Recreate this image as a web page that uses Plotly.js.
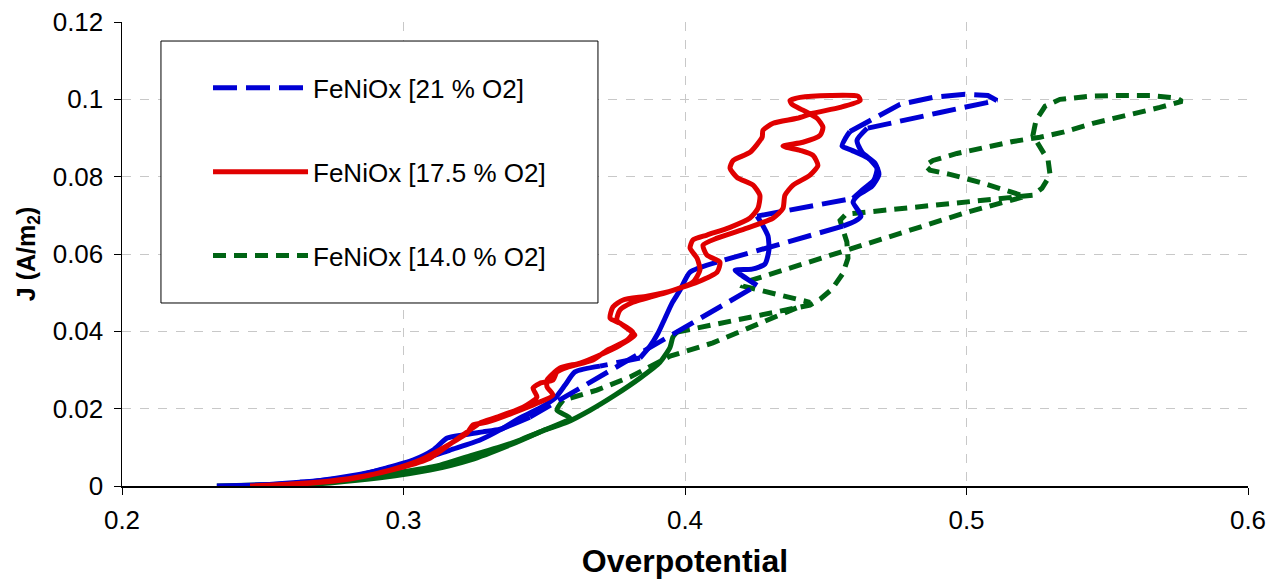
<!DOCTYPE html>
<html><head><meta charset="utf-8">
<script src="https://cdn.plot.ly/plotly-3.0.1.min.js"></script>
<style>html,body{margin:0;padding:0;background:#fff}#chart{width:1285px;height:586px}</style>
</head><body><div id="chart"></div>
<script>
const seriesNames = ['FeNiOx [21 % O2]', 'FeNiOx [17.5 % O2]', 'FeNiOx [14.0 % O2]'];
const xTickVals = [0.2, 0.3, 0.4, 0.5, 0.6];
const xTickText = ['0.2', '0.3', '0.4', '0.5', '0.6'];
const yTickVals = [0, 0.02, 0.04, 0.06, 0.08, 0.1, 0.12];
const yTickText = ['0', '0.02', '0.04', '0.06', '0.08', '0.1', '0.12'];

// FeNiOx [21 % O2] — densely sampled parts (look solid)
const blueSolidX = [0.2337,0.2490,0.2632,0.2810,0.2941,0.3034,0.3105,0.3155,0.3211,0.3282,0.3343,0.3449, null,
  0.4256,0.4195,0.4178,0.4238,0.4284,0.4298,0.4295,0.4274,0.4256, null,
  0.4597,0.4629,0.4671,0.4682,0.4650,0.4593,0.4558,0.4572,0.4586, null,
  0.4647,0.4611,0.4629,0.4675,0.4689,0.4664,0.4615,0.4597,0.4615,0.4625,0.4604,0.4561, null,
  0.4114,0.4018,0.3982,0.3954,0.3929,0.3904,0.3876,0.3840, null,
  0.3698,0.3609,0.3574,0.3538,0.3485,0.3414,0.3343,0.3272,0.3165,0.3059,0.2952,0.2810,0.2632,0.2455];
const blueSolidY = [0,0.0003,0.0010,0.0023,0.0047,0.0067,0.0093,0.0124,0.0132,0.0140,0.0147,0.0178, null,
  0.0519,0.0548,0.0558,0.0561,0.0574,0.0610,0.0646,0.0677,0.0698, null,
  0.0744,0.0765,0.0791,0.0822,0.0848,0.0868,0.0879,0.0902,0.0917, null,
  0.0925,0.0894,0.0863,0.0835,0.0806,0.0775,0.0752,0.0734,0.0713,0.0698,0.0685,0.0672, null,
  0.0579,0.0553,0.0506,0.0473,0.0434,0.0395,0.0362,0.0331, null,
  0.0310,0.0295,0.0261,0.0227,0.0202,0.0176,0.0145,0.0119,0.0093,0.0067,0.0047,0.0026,0.0008,0];
// FeNiOx [21 % O2] — sparse jumps (look dashed)
const blueDashX = [0.3449,0.4256, null, 0.4256,0.4597, null,
  0.4586,0.4764,0.4881,0.4995,0.5076,0.5108,0.4906,0.4647, null,
  0.4561,0.4114, null, 0.3840,0.3698];
const blueDashY = [0.0178,0.0519, null, 0.0698,0.0744, null,
  0.0917,0.0987,0.1005,0.1013,0.1010,0.0997,0.0966,0.0925, null,
  0.0672,0.0579, null, 0.0331,0.0310];

// FeNiOx [17.5 % O2]
const redX = [0.2455,0.2597,0.2739,0.2863,0.2988,0.3094,0.3176,0.3236,0.3272,0.3332,
  0.3425,0.3474,0.3460,0.3485,0.3531,0.3545,0.3581,0.3673,0.3723,0.3794,
  0.3815,0.3769,0.3734,0.3744,0.3780,0.3865,0.3957,0.4028,0.4053,0.4043,
  0.4018,0.4028,0.4078,0.4160,0.4231,0.4259,0.4266,0.4242,0.4185,0.4160,
  0.4171,0.4231,0.4274,0.4277,0.4313,0.4398,0.4455,0.4551,0.4622,0.4615,
  0.4515,0.4409,0.4373,0.4380,0.4419,0.4469,0.4490,0.4480,0.4419,0.4348,
  0.4409,0.4455,0.4472,0.4444,0.4384,0.4355,0.4348,0.4313,0.4220,0.4114,
  0.4064,0.4078,0.4124,0.4114,0.4043,0.3936,0.3815,0.3769,0.3758,0.3794,
  0.3822,0.3769,0.3698,0.3627,0.3556,0.3510,0.3510,0.3531,0.3474,0.3389,
  0.3297,0.3247,0.3226,0.3147,0.3059,0.2952,0.2810,0.2632,0.2490];
const redY = [0,0.0005,0.0013,0.0026,0.0047,0.0072,0.0114,0.0145,0.0163,0.0178,
  0.0204,0.0230,0.0253,0.0266,0.0274,0.0295,0.0307,0.0326,0.0351,0.0377,
  0.0398,0.0421,0.0434,0.0463,0.0481,0.0491,0.0506,0.0527,0.0558,0.0589,
  0.0615,0.0636,0.0649,0.0669,0.0693,0.0718,0.0752,0.0778,0.0798,0.0822,
  0.0842,0.0863,0.0902,0.0920,0.0938,0.0951,0.0964,0.0979,0.0997,0.1008,
  0.1010,0.1005,0.0997,0.0987,0.0972,0.0951,0.0928,0.0907,0.0889,0.0879,
  0.0868,0.0855,0.0829,0.0804,0.0778,0.0752,0.0718,0.0693,0.0667,0.0641,
  0.0623,0.0597,0.0579,0.0553,0.0527,0.0501,0.0475,0.0455,0.0429,0.0408,
  0.0390,0.0364,0.0339,0.0318,0.0305,0.0274,0.0256,0.0235,0.0214,0.0189,
  0.0165,0.0158,0.0137,0.0101,0.0067,0.0041,0.0018,0.0005,0];

// FeNiOx [14.0 % O2] — dense parts
const greenSolidX = [0.2337,0.2490,0.2632,0.2810,0.2988,0.3130,0.3236,0.3343,0.3414,0.3503,0.3581,0.3663,0.3751,0.3840,0.3911,0.3947,0.3957,0.3972, null,
  0.3567,0.3545,0.3591,0.3485,0.3378,0.3236,0.3094,0.2917,0.2739,0.2561,0.2419];
const greenSolidY = [0,0.0003,0.0008,0.0021,0.0036,0.0054,0.0078,0.0101,0.0119,0.0145,0.0165,0.0196,0.0235,0.0279,0.0320,0.0359,0.0385,0.0398, null,
  0.0222,0.0196,0.0176,0.0140,0.0106,0.0067,0.0041,0.0021,0.0008,0,0];
// FeNiOx [14.0 % O2] — sparse parts
const greenDashX = [0.3972,0.4444,0.4480,0.4522,0.4561,0.4579,0.4575,0.4561,0.4551,0.4572,
  0.5236,0.5268,0.5297,0.5290,0.5261,0.5236,0.5247,0.5279,0.5332,0.5439,
  0.5545,0.5652,0.5748,0.5766,0.5687,0.5570,0.5449,0.5343,0.5261,0.5165,
  0.5059,0.4966,0.4881,0.4853,0.4870,0.4941,0.5059,0.5155,0.5208,0.5002,
  0.4764,0.4575,0.4337,0.4213,0.4206,0.4284,0.4444,0.4099,0.3947,0.3805,
  0.3687,0.3567];
const greenDashY = [0.0398,0.0468,0.0483,0.0509,0.0550,0.0589,0.0631,0.0667,0.0687,0.0703,
  0.0752,0.0770,0.0804,0.0842,0.0876,0.0907,0.0946,0.0982,0.1000,0.1008,
  0.1010,0.1010,0.1003,0.0995,0.0979,0.0959,0.0938,0.0915,0.0902,0.0891,
  0.0876,0.0860,0.0842,0.0829,0.0817,0.0806,0.0783,0.0760,0.0749,0.0708,
  0.0654,0.0610,0.0558,0.0527,0.0517,0.0504,0.0475,0.0370,0.0336,0.0282,
  0.0248,0.0222];

const BLUE = '#0000d4', RED = '#e00000', GREEN = '#006414';
const W = 5;
const traces = [
  {x: greenSolidX, y: greenSolidY, mode: 'lines', line: {color: GREEN, width: W, shape: 'spline', smoothing: 0.6},
   connectgaps: false, legendgroup: 'g', showlegend: false, hoverinfo: 'skip'},
  {x: greenDashX, y: greenDashY, mode: 'lines', name: seriesNames[2], line: {color: GREEN, width: W, dash: '13px,8px'},
   connectgaps: false, legendgroup: 'g', legendrank: 3},
  {x: blueSolidX, y: blueSolidY, mode: 'lines', line: {color: BLUE, width: W, shape: 'spline', smoothing: 0.6},
   connectgaps: false, legendgroup: 'b', showlegend: false, hoverinfo: 'skip'},
  {x: blueDashX, y: blueDashY, mode: 'lines', name: seriesNames[0], line: {color: BLUE, width: W, dash: '24px,9px'},
   connectgaps: false, legendgroup: 'b', legendrank: 1},
  {x: redX, y: redY, mode: 'lines', name: seriesNames[1], line: {color: RED, width: W, shape: 'spline', smoothing: 0.6},
   legendgroup: 'r', legendrank: 2}
];

const FONT = '"Liberation Sans", Arial, sans-serif';
const layout = {
  width: 1285, height: 586,
  margin: {l: 122, r: 37, t: 22, b: 100},
  paper_bgcolor: '#fff', plot_bgcolor: '#fff',
  font: {family: FONT, color: '#000', size: 26},
  showlegend: true,
  xaxis: {range: [0.2, 0.6], tickmode: 'array', tickvals: xTickVals, ticktext: xTickText,
    ticks: 'outside', ticklen: 7, tickcolor: '#000', tickwidth: 1, ticklabelstandoff: 3,
    showline: true, linecolor: '#000', linewidth: 1.5, mirror: false,
    showgrid: true, gridcolor: '#c8c8c8', griddash: 'dash', gridwidth: 1, zeroline: false,
    tickfont: {size: 26},
    title: {text: '<b>Overpotential</b>', font: {size: 32}, standoff: 16}},
  yaxis: {range: [0, 0.12], tickmode: 'array', tickvals: yTickVals, ticktext: yTickText,
    ticks: 'outside', ticklen: 7, tickcolor: '#000', tickwidth: 1, ticklabelstandoff: 5,
    showline: true, linecolor: '#000', linewidth: 1.5, mirror: false,
    showgrid: true, gridcolor: '#c8c8c8', griddash: 'dash', gridwidth: 1, zeroline: false,
    tickfont: {size: 26},
    title: {text: '<b>J (A/m<sub>2</sub>)</b>', font: {size: 25}, standoff: 10}},
  legend: {x: 0.0764, y: 0.9085, xanchor: 'left', yanchor: 'top', bgcolor: 'rgba(0,0,0,0)',
    borderwidth: 0, font: {size: 26, family: FONT}, itemwidth: 95, tracegroupgap: 47, traceorder: 'grouped'},
  shapes: [{type: 'rect', xref: 'paper', yref: 'paper', x0: 0.0346, x1: 0.4227, y0: 0.3944, y1: 0.959,
    line: {color: '#000', width: 1}, fillcolor: '#fff', layer: 'above'}]
};
Plotly.newPlot('chart', traces, layout, {displayModeBar: false, staticPlot: true});
</script>
</body></html>
